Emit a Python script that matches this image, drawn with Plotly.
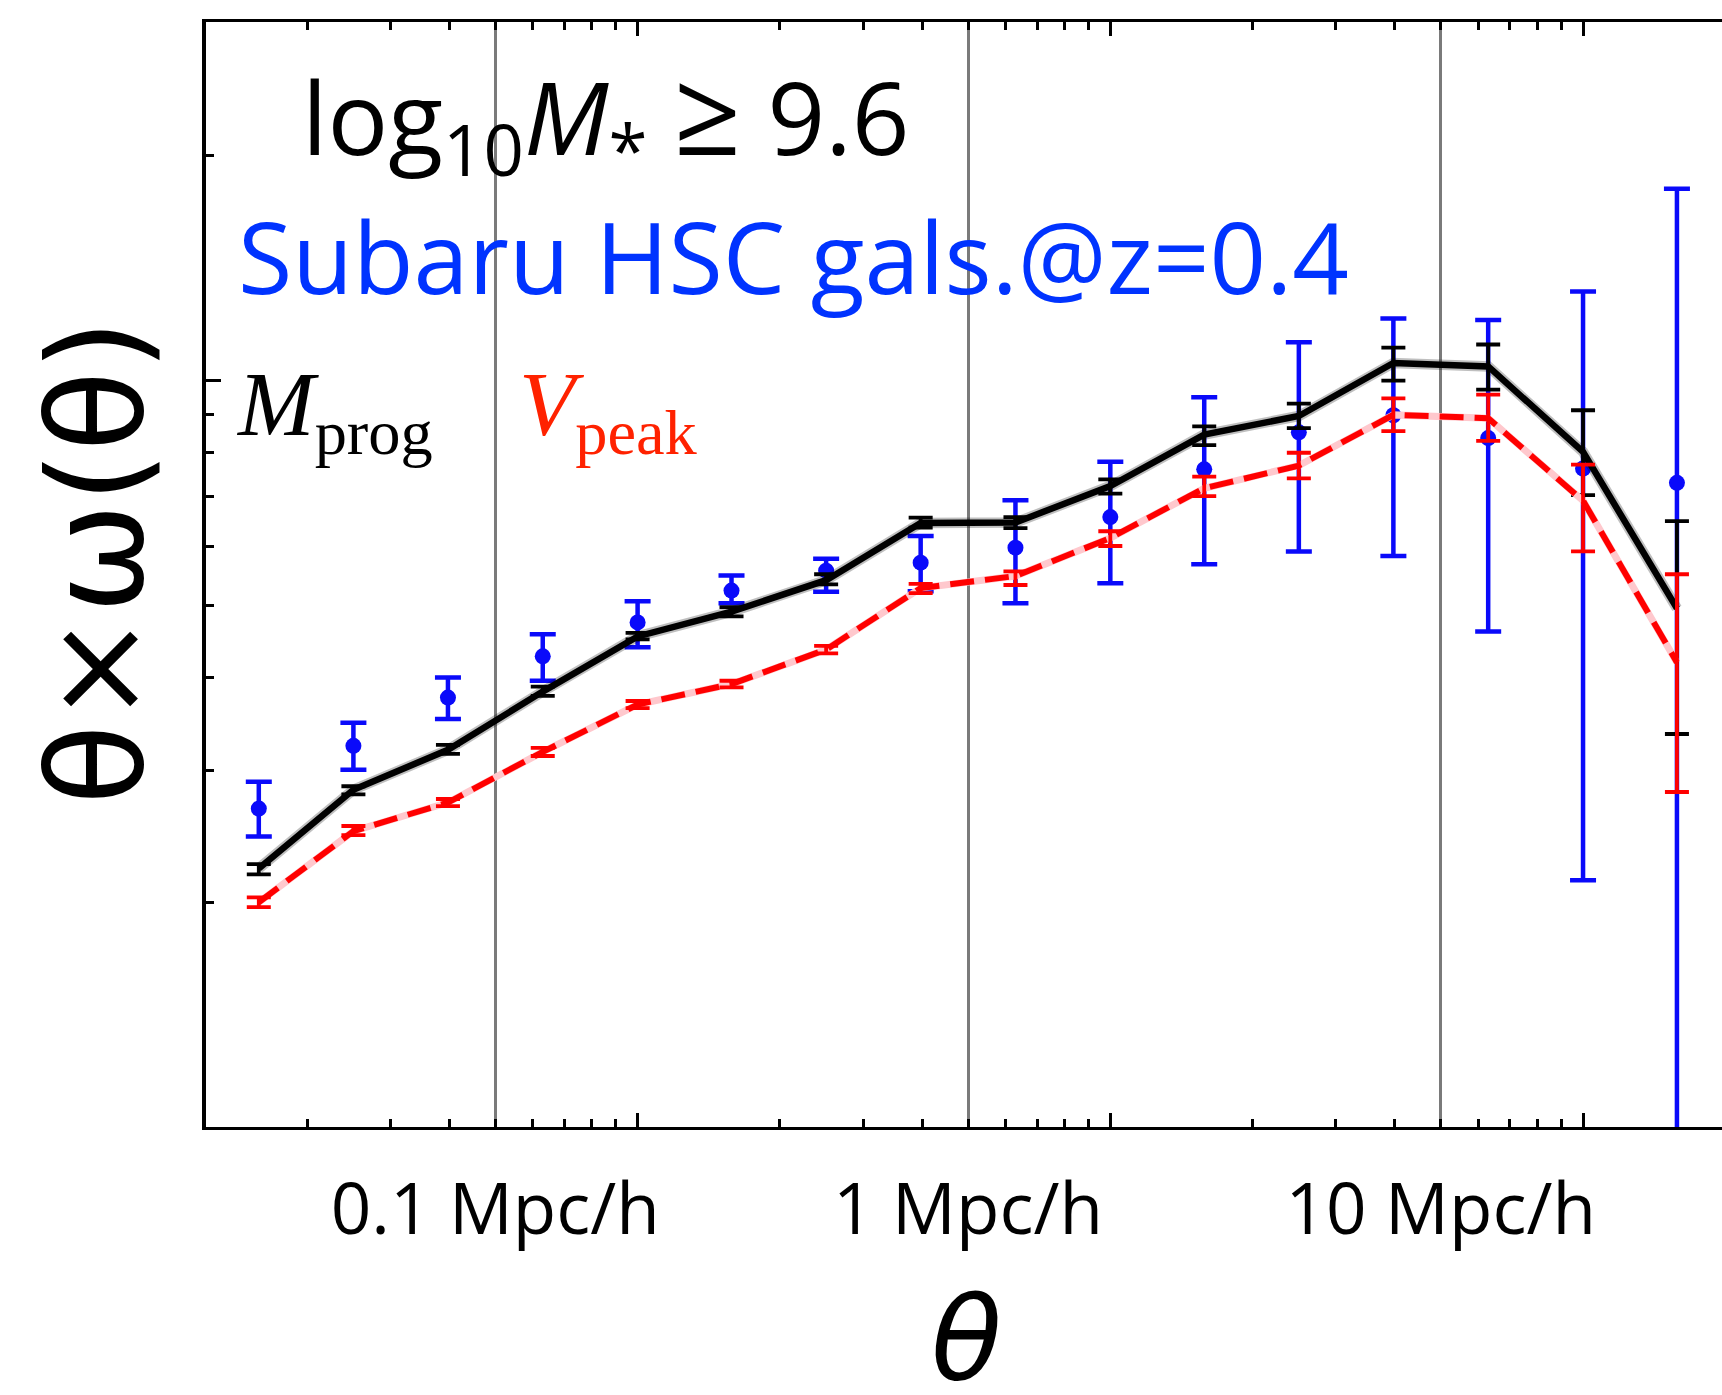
import plotly.graph_objects as go

# ---------------- data ----------------
theta = [0.0316, 0.0501, 0.0794, 0.126, 0.200, 0.316, 0.501, 0.794,
         1.26, 2.00, 3.16, 5.01, 7.94, 12.6, 20.0, 31.6]

mprog = [0.222, 0.283, 0.320, 0.383, 0.454, 0.490, 0.540, 0.644,
         0.645, 0.722, 0.846, 0.896, 1.055, 1.044, 0.802, 0.495]
mprog_lo = [0.218, 0.279, 0.316, 0.378, 0.450, 0.483, 0.533, 0.635,
            0.634, 0.705, 0.819, 0.863, 0.999, 0.972, 0.702, 0.336]
mprog_hi = [0.225, 0.286, 0.325, 0.389, 0.459, 0.497, 0.550, 0.655,
            0.656, 0.737, 0.868, 0.931, 1.106, 1.117, 0.912, 0.648]

vpeak = [0.200, 0.249, 0.272, 0.318, 0.368, 0.392, 0.436, 0.527,
         0.547, 0.615, 0.717, 0.769, 0.899, 0.890, 0.690, 0.419]
vpeak_lo = [0.197, 0.246, 0.269, 0.314, 0.364, 0.388, 0.431, 0.519,
            0.532, 0.600, 0.700, 0.739, 0.855, 0.830, 0.590, 0.281]
vpeak_hi = [0.203, 0.253, 0.275, 0.322, 0.372, 0.396, 0.441, 0.534,
            0.555, 0.628, 0.743, 0.800, 0.946, 0.957, 0.771, 0.550]

hsc = [0.267, 0.324, 0.376, 0.427, 0.474, 0.523, 0.556, 0.570,
       0.597, 0.656, 0.760, 0.852, 0.898, 0.837, 0.762, 0.729]
hsc_lo = [0.245, 0.301, 0.352, 0.396, 0.439, 0.503, 0.521, 0.522,
          0.503, 0.535, 0.567, 0.590, 0.582, 0.461, 0.214, 0.050]
hsc_hi = [0.290, 0.348, 0.400, 0.457, 0.506, 0.548, 0.577, 0.619,
          0.691, 0.778, 0.949, 1.125, 1.210, 1.205, 1.315, 1.806]

x_label_vals = [0.1, 1, 10]
x_label_text = ["0.1 Mpc/h", "1 Mpc/h", "10 Mpc/h"]
x_major_ticks = [0.2, 2, 20]
x_minor_ticks = [0.04, 0.06, 0.08, 0.12, 0.14, 0.16, 0.18,
                 0.4, 0.6, 0.8, 1.2, 1.4, 1.6, 1.8,
                 4, 6, 8, 12, 14, 16, 18]
y_major_ticks = [0.1, 1]
y_minor_ticks = [0.2, 0.3, 0.4, 0.5, 0.6, 0.7, 0.8, 0.9, 2]


def err(v, lo, hi):
    return ([h - c for c, h in zip(v, hi)], [c - l for c, l in zip(v, lo)])


BLUE = "rgb(10,10,250)"
RED = "rgb(255,0,0)"

fig = go.Figure()

# HSC observations (bottom layer)
up, dn = err(hsc, hsc_lo, hsc_hi)
fig.add_trace(go.Scatter(
    x=theta, y=hsc, mode="markers",
    marker=dict(color=BLUE, size=16),
    error_y=dict(type="data", array=up, arrayminus=dn, color=BLUE,
                 thickness=4.5, width=13),
))

# M_prog (black) with soft halo
fig.add_trace(go.Scatter(x=theta, y=mprog, mode="lines",
                         line=dict(color="rgba(0,0,0,0.25)", width=10.5)))
up, dn = err(mprog, mprog_lo, mprog_hi)
fig.add_trace(go.Scatter(
    x=theta, y=mprog, mode="lines",
    line=dict(color="black", width=6.5),
    error_y=dict(type="data", array=up, arrayminus=dn, color="black",
                 thickness=3.8, width=12),
))

# V_peak (red dashed over pink)
fig.add_trace(go.Scatter(x=theta, y=vpeak, mode="lines",
                         line=dict(color="rgb(255,200,205)", width=7)))
up, dn = err(vpeak, vpeak_lo, vpeak_hi)
fig.add_trace(go.Scatter(
    x=theta, y=vpeak, mode="lines",
    line=dict(color=RED, width=6, dash="24px,11px"),
    error_y=dict(type="data", array=up, arrayminus=dn, color=RED,
                 thickness=3.8, width=12),
))

# empty trace to register overlay axis with long ticks
fig.add_trace(go.Scatter(x=[], y=[], xaxis="x2", showlegend=False))

tick_common = dict(ticks="inside", tickwidth=2.5, tickcolor="black")

fig.update_layout(
    width=1722, height=1395,
    margin=dict(l=206, r=0, t=22, b=268),
    plot_bgcolor="white", paper_bgcolor="white",
    showlegend=False,
    xaxis=dict(
        type="log", range=[-1.612, 1.595],
        tickmode="array", tickvals=x_label_vals, ticktext=x_label_text,
        ticklen=8, **tick_common,
        tickfont=dict(family="Open Sans", size=71, color="black"),
        ticklabelstandoff=19,
        showgrid=True, gridcolor="#7a7a7a", gridwidth=3,
        showline=True, linecolor="black", linewidth=3, mirror="ticks",
        zeroline=False,
        minor=dict(tickmode="array", tickvals=x_minor_ticks, ticklen=8,
                   ticks="inside", tickwidth=2.5, tickcolor="black",
                   showgrid=False),
    ),
    xaxis2=dict(
        type="log", range=[-1.612, 1.595], overlaying="x", anchor="y",
        side="bottom", tickmode="array", tickvals=x_major_ticks,
        ticklen=14, **tick_common, showticklabels=False,
        showgrid=False, showline=False, mirror="ticks", zeroline=False,
    ),
    yaxis=dict(
        type="log", range=[-1.0, 0.48],
        tickmode="array", tickvals=y_major_ticks, showticklabels=False,
        ticklen=15, **tick_common,
        showgrid=False, showline=True, linecolor="black", linewidth=4,
        zeroline=False,
        minor=dict(tickmode="array", tickvals=y_minor_ticks, ticklen=8,
                   ticks="inside", tickwidth=2.5, tickcolor="black",
                   showgrid=False),
    ),
)

PW = 1722 - 206
PH = 1127 - 22


def px(x):
    return (x - 206) / PW


def py(y):
    return (1127 - y) / PH


annotations = [
    dict(text="<i>θ</i>", x=px(966), y=py(1338), xanchor="center",
         yanchor="middle", font=dict(family="DejaVu Sans", size=116, color="black")),
    dict(text="θ×ω(θ)", textangle=-90, x=px(96), y=py(562), xanchor="center",
         yanchor="middle", font=dict(family="DejaVu Sans", size=132, color="black")),
    dict(text='log<sub>10</sub><i>M</i><sub>*</sub> <span style="font-size:118px">≥</span> 9.6',
         x=px(300), y=py(113), xanchor="left", yanchor="middle",
         font=dict(family="Open Sans", size=101, color="black")),
    dict(text="Subaru HSC gals.@z=0.4", x=px(236), y=py(255),
         xanchor="left", yanchor="middle",
         font=dict(family="Open Sans", size=99, color="rgb(0,51,255)")),
    dict(text="<i>M</i><sub>prog</sub>", x=px(234), y=py(411),
         xanchor="left", yanchor="middle",
         font=dict(family="Liberation Serif", size=92, color="black")),
    dict(text="<i>V</i><sub>peak</sub>", x=px(517), y=py(411),
         xanchor="left", yanchor="middle",
         font=dict(family="Liberation Serif", size=92, color="rgb(255,34,0)")),
]
for a in annotations:
    a.update(xref="paper", yref="paper", showarrow=False)
fig.update_layout(annotations=annotations)

fig.write_html("out.html")
